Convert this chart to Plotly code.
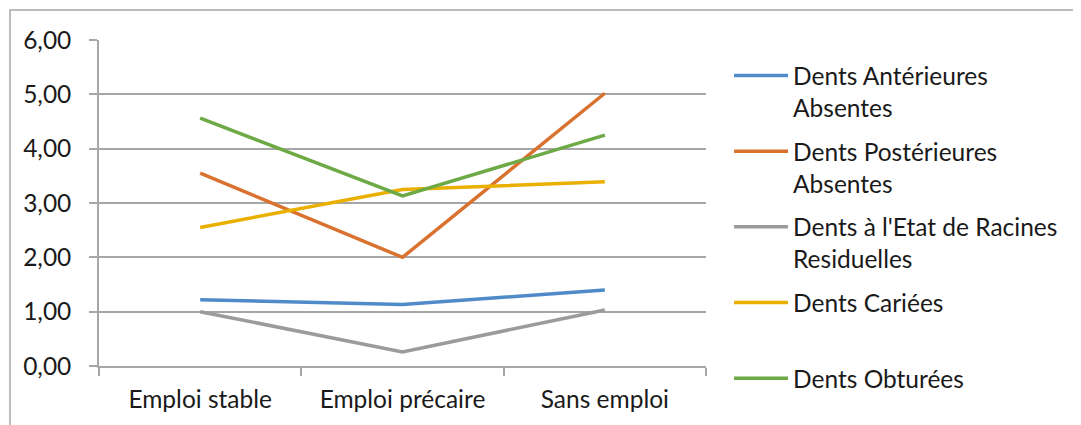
import plotly.graph_objects as go

categories = ["Emploi stable", "Emploi précaire", "Sans emploi"]

series_names = [
    "Dents Antérieures<br>Absentes",
    "Dents Postérieures<br>Absentes",
    "Dents à l'Etat de Racines<br>Residuelles",
    "Dents Cariées<br> ",
    "Dents Obturées",
]
anterieures_absentes = [1.22, 1.13, 1.40]
posterieures_absentes = [3.55, 2.00, 5.02]
racines_residuelles = [1.00, 0.26, 1.03]
cariees = [2.55, 3.25, 3.39]
obturees = [4.56, 3.13, 4.25]

series_values = [
    anterieures_absentes,
    posterieures_absentes,
    racines_residuelles,
    cariees,
    obturees,
]
colors = ["#4f8bc9", "#d9712f", "#9b9b9b", "#e9b000", "#6daa45"]

grid = "#a6a6a6"
font = "Lato, 'Open Sans', sans-serif"
size = 24.5

fig = go.Figure()
for i, (name, values, color) in enumerate(zip(series_names, series_values, colors)):
    fig.add_trace(
        go.Scatter(
            x=categories,
            y=values,
            mode="lines",
            name=name,
            legendgroup=f"g{i}",
            line={"color": color, "width": 3.5},
        )
    )

# outer chart frame (runs past the right/bottom edge as in the source)
fig.add_shape(
    type="rect",
    xref="paper",
    yref="paper",
    x0=-0.1466,
    y0=-0.3,
    x1=1.75,
    y1=1.092,
    line={"color": grid, "width": 1.5},
    layer="below",
)

# the page body has an 8px margin, so the figure is laid out 8px up/left
fig.update_layout(
    width=1081,
    height=425,
    margin={"l": 91, "r": 383, "t": 32, "b": 67},
    paper_bgcolor="white",
    plot_bgcolor="white",
    separators=", ",
    font={"family": font, "size": size, "color": "#1a1a1a"},
    legend={
        "x": 1.038,
        "y": 0.96,
        "xanchor": "left",
        "yanchor": "top",
        "valign": "top",
        "itemwidth": 54,
        "tracegroupgap": 9,
        "maxheight": 600,
        "font": {"family": font, "size": size, "color": "#1a1a1a"},
    },
    xaxis={
        "showline": True,
        "linecolor": grid,
        "linewidth": 1.5,
        "showgrid": False,
        "ticks": "outside",
        "ticklen": 8,
        "tickcolor": grid,
        "tickwidth": 1.5,
        "tickson": "boundaries",
        "ticklabelstandoff": 11,
        "range": [-0.5, 2.5],
        "tickfont": {"size": size},
    },
    yaxis={
        "range": [0, 6],
        "dtick": 1,
        "tickformat": ".2f",
        "showgrid": True,
        "gridcolor": grid,
        "gridwidth": 1.5,
        "showline": True,
        "linecolor": grid,
        "linewidth": 1.5,
        "ticks": "outside",
        "ticklen": 8,
        "tickcolor": grid,
        "tickwidth": 1.5,
        "zeroline": False,
        "ticklabelstandoff": 13,
        "tickfont": {"size": size},
    },
)

fig.write_html("out.html")
